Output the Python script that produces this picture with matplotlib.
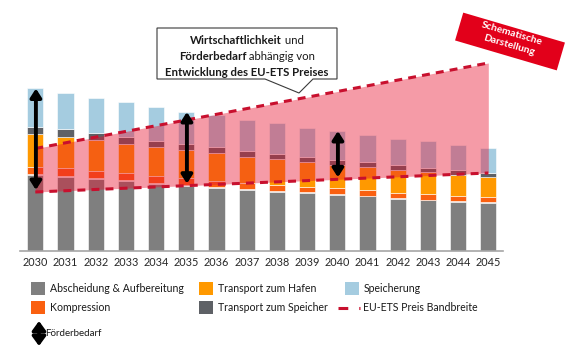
import numpy as np
import matplotlib
matplotlib.use('Agg')
import matplotlib.pyplot as plt
from matplotlib import transforms
from matplotlib.patches import Rectangle, Polygon, FancyArrowPatch
from matplotlib.lines import Line2D

# ---------------- data ----------------
years = [str(y) for y in range(2030, 2046)]
abscheidung = [76.5, 74.5, 72.5, 70.5, 67.5, 65.5, 63.5, 61.5, 59.5, 58.5, 56.5, 55, 52.5, 51, 49.5, 48.5]
kompression = [7.5, 8.5, 7.5, 7.5, 7.5, 7, 6, 6, 6.5, 5.5, 6, 5.5, 5.5, 5.5, 5.5, 5]
transport_hafen = [32.5, 31, 31, 29, 28.5, 28.5, 28, 26.5, 26, 24.5, 23.5, 23, 22.5, 22, 21, 20]
transport_speicher = [7.5, 8, 6.5, 7, 6.5, 5.5, 6.5, 6, 5, 5.5, 5, 5, 5, 4.5, 5, 4.5]
speicherung = [38.5, 36, 35.5, 34.5, 34, 32.5, 31.5, 30.5, 30.5, 29, 29, 27.5, 26.5, 26.5, 25, 25]

ets_years = [2030, 2045]
ets_low = [59, 78]
ets_high = [102.5, 188]
arrow_years = [2030, 2035, 2040]

series_labels = ["Abscheidung & Aufbereitung", "Kompression", "Transport zum Hafen",
                 "Transport zum Speicher", "Speicherung"]
ets_label = "EU-ETS Preis Bandbreite"
arrow_label = "Förderbedarf"
callout_lines = [[("Wirtschaftlichkeit", "bold"), (" und", "normal")],
                 [("Förderbedarf", "bold"), (" abhängig von", "normal")],
                 [("Entwicklung des EU-ETS Preises", "bold")]]
stamp_lines = ["Schematische", "Darstellung"]

# ---------------- style ----------------
colors = ["#7F7F7F", "#FA6010", "#FF9900", "#5E6166", "#A5CCE0"]
band_color = "#E8112D"
dash_color = "#C8102E"
plt.rcParams['font.family'] = ['Lato', 'DejaVu Sans']

W, H = 580, 360
fig = plt.figure(figsize=(W / 100, H / 100), dpi=100)
PX = transforms.Affine2D().scale(1 / W, -1 / H).translate(0, 1) + fig.transFigure

ax = fig.add_axes([20.2 / W, 1 - 251 / H, (503.4 - 20.2) / W, 231 / H])
x = np.arange(len(years))
bottom = np.zeros(len(years))
for vals, col in zip([abscheidung, kompression, transport_hafen, transport_speicher, speicherung], colors):
    vals = np.array(vals, dtype=float)
    ax.bar(x, vals, width=0.53, bottom=bottom, color=col, edgecolor='white',
           linewidth=0.4, zorder=2)
    bottom += vals
total = bottom.copy()

ex = np.array(ets_years) - 2030
ax.fill_between(ex, ets_low, ets_high, color=band_color, alpha=0.42, lw=0, zorder=3)
for line in (ets_low, ets_high):
    ax.plot(ex, line, color=dash_color, lw=2.2, dashes=(2.6, 2.0), zorder=4,
            solid_capstyle='butt', dash_capstyle='butt')

for yr in arrow_years:
    i = yr - 2030
    low = np.interp(yr, ets_years, ets_low) + 2
    ax.annotate('', xy=(i + 0.02, total[i]), xytext=(i + 0.02, low),
                arrowprops=dict(arrowstyle='<|-|>,head_length=0.5,head_width=0.32',
                                color='black', lw=2.8, shrinkA=0, shrinkB=0),
                zorder=6)

ax.set_xlim(-0.5, 15.5)
ax.set_ylim(0, 231)
ax.set_xticks(x, labels=years)
ax.tick_params(axis='x', length=0, pad=4, labelsize=7.8, labelcolor='#262626')
ax.set_yticks([])
for s in ('top', 'left', 'right'):
    ax.spines[s].set_visible(False)
ax.spines['bottom'].set_color('#A6A6A6')
ax.spines['bottom'].set_linewidth(1.2)
ax.patch.set_alpha(0)

# ---------------- legend (manual) ----------------
leg_fs = 7.6
rows = [288.5, 307.5]
positions = [(31, rows[0]), (31, rows[1]), (199.3, rows[0]), (199.3, rows[1]), (345, rows[0])]
for (px, py), lab, col in zip(positions, series_labels, colors):
    fig.patches.append(Rectangle((px, py - 6.5), 14, 13, transform=PX, fc=col, ec='none'))
    fig.text(px + 19, py, lab, transform=PX, fontsize=leg_fs, va='center', ha='left', color='#1a1a1a')
fig.lines.append(Line2D([338, 360], [rows[1], rows[1]], transform=PX, color=dash_color, lw=2.2,
                        dashes=(3.2, 3.6), dash_capstyle='butt'))
fig.text(363.3, rows[1], ets_label, transform=PX, fontsize=leg_fs, va='center', ha='left', color='#1a1a1a')

# Förderbedarf legend arrow
fig.patches.append(FancyArrowPatch((39, 346), (39, 321), transform=PX,
                   arrowstyle='<|-|>,head_length=0.55,head_width=0.4', color='black', lw=2.6,
                   mutation_scale=10, shrinkA=0, shrinkB=0))
fig.text(45.5, 333.5, arrow_label, transform=PX, fontsize=7, va='center', ha='left', color='#1a1a1a')

# ---------------- callout ----------------
callout = Polygon([(157, 28), (337, 28), (337, 79), (313, 79), (299, 93), (265, 79), (157, 79)],
                  closed=True, transform=PX, fc='white', ec='#3a3a3a', lw=0.8, zorder=10)
fig.patches.append(callout)
renderer = fig.canvas.get_renderer()
cx = 247
for ly, pieces in zip([40.7, 56.7, 72.7], callout_lines):
    texts = [fig.text(0, ly, s, transform=PX, fontsize=8.2, fontweight=w, va='center',
                      ha='left', color='#1a1a1a', zorder=11) for s, w in pieces]
    widths = [t.get_window_extent(renderer).width for t in texts]
    start = cx - sum(widths) / 2
    for t, wdt in zip(texts, widths):
        t.set_x(start)
        start += wdt

# ---------------- stamp ----------------
ang = 16.4
theta = np.deg2rad(ang)
c = np.array([510, 41.5])
u = np.array([np.cos(theta), np.sin(theta)])
v = np.array([-np.sin(theta), np.cos(theta)])
bw, bh = 106, 29
corners = [c - u * bw / 2 - v * bh / 2, c + u * bw / 2 - v * bh / 2,
           c + u * bw / 2 + v * bh / 2, c - u * bw / 2 + v * bh / 2]
fig.patches.append(Polygon(corners, closed=True, transform=PX, fc='#E2001A', ec='none', zorder=10))
for k, s in enumerate(stamp_lines):
    p = c + v * ((-5.8 if k == 0 else 5.8) - 2.0)
    fig.text(p[0], p[1], s, transform=PX, rotation=-ang, rotation_mode='anchor',
             ha='center', va='center', fontsize=7.4, fontweight='bold',
             color='white', zorder=11)

fig.savefig('out.png', dpi=100)
